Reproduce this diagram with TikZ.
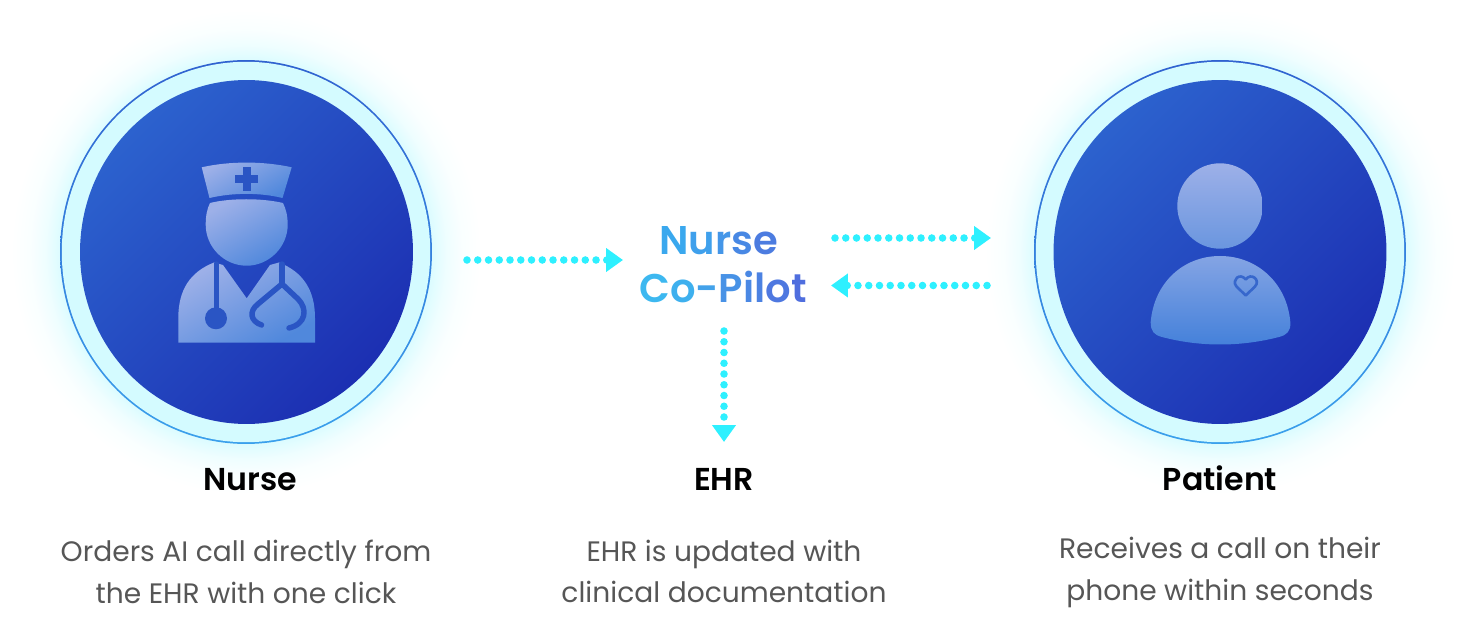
\documentclass[tikz,border=0pt]{standalone}
\usepackage{fontspec}
\setmainfont{Poppins}
\newfontfamily\headfont{Poppins SemiBold}
\usetikzlibrary{arrows.meta, shapes.geometric}

\definecolor{glowin}{HTML}{CFFBFF}
\definecolor{ringup}{HTML}{3062D0}
\definecolor{ringdown}{HTML}{3AA0EC}
\definecolor{discup}{HTML}{2C62CE}
\definecolor{discdown}{HTML}{1C2FB2}
\definecolor{iconup}{HTML}{9DB0E8}
\definecolor{icondown}{HTML}{5088DC}
\definecolor{headdown}{HTML}{6A96DF}
\definecolor{shoulderup}{HTML}{84A4E4}
\definecolor{shoulderdown}{HTML}{4380DA}
\definecolor{tube}{HTML}{2A55C4}
\definecolor{flowcyan}{HTML}{2EF0FF}
\definecolor{bodygray}{HTML}{565656}

\pgfdeclareradialshading{glowball}{\pgfpoint{0bp}{0bp}}{
  color(0bp)=(glowin); color(19.7bp)=(glowin!75!white);
  color(21.3bp)=(glowin!35!white); color(22.9bp)=(glowin!12!white); color(25bp)=(white); color(50bp)=(white)}

\newcommand{\gl}[2]{\textcolor[HTML]{#1}{#2}}

\begin{document}
\begin{tikzpicture}[x=0.02cm, y=-0.02cm,
                    glow/.style = {ellipse, minimum width = 9.4cm, minimum height = 9.7cm, inner sep = 0pt, shading = glowball},
                    ring/.style = {ellipse, minimum width = 7.44cm, minimum height = 7.68cm, inner sep = 0pt,
                                   shading = axial, top color = ringup, bottom color = ringdown},
                    ringgap/.style = {ellipse, minimum width = 7.37cm, minimum height = 7.61cm, inner sep = 0pt, fill = glowin!90!white},
                    disc/.style = {ellipse, minimum width = 6.66cm, minimum height = 6.88cm, inner sep = 0pt, shading = axial,
                                   top color = discup, bottom color = discdown, shading angle = 45},
                    iconfill/.style = {shading = axial, top color = iconup, bottom color = icondown, shading angle = 30},
                    tubeline/.style = {draw = tube, line width = 3.1pt, line cap = round, line join = round},
                    title/.style = {font = \headfont\fontsize{18}{21}\selectfont, text = black, anchor = base},
                    desc/.style = {font = \fontsize{16}{23.8}\selectfont, text = bodygray, align = center},
                    dotflow/.style = {draw = flowcyan, line width = 4.3pt, line cap = round,
                                      dash pattern = on 0pt off 6.12pt,
                                      -{Triangle[length = 9.6pt, width = 13pt, fill = flowcyan]}}]
  \useasboundingbox (0, 0) rectangle (1467, 631);

  % nurse circle
  \node [glow] (nurseglow) at (246, 252){};
  \node [ring] (nursering) at (246, 252){};
  \node [ringgap] (nursegap) at (246, 252){};
  \node [disc] (nurse) at (246.5, 252){};

  % patient circle
  \node [glow] (patientglow) at (1220, 252){};
  \node [ring] (patientring) at (1220, 252){};
  \node [ringgap] (patientgap) at (1220, 252){};
  \node [disc] (patient) at (1220, 252){};

  % nurse icon
  \shade [iconfill] (201.7, 167.3) .. controls (230, 161) and (263, 161) .. (291.7, 167.3)
    -- (282.5, 198) .. controls (260, 192.5) and (233, 192.5) .. (209.5, 198) -- cycle;
  \fill [tube] (242.7, 167.3) rectangle (250.7, 190.7);
  \fill [tube] (235, 175) rectangle (258.3, 182.7);
  \shade [iconfill] (205.7, 224.7) .. controls (205.7, 247) and (224, 265.7) .. (246.7, 265.7)
    .. controls (269, 265.7) and (287.7, 247) .. (287.7, 224.7)
    .. controls (287.7, 216) and (286, 209) .. (283, 203)
    .. controls (262, 198) and (230, 198) .. (210, 203)
    .. controls (207, 209) and (205.7, 216) .. (205.7, 224.7) -- cycle;
  \shade [iconfill] (178.3, 342.7) -- (178.3, 318) .. controls (178.3, 290) and (190, 272) .. (214, 262.5)
    -- (223, 265) -- (246.7, 298.3) -- (270, 265) -- (279, 262.5)
    .. controls (303, 272) and (315, 290) .. (315, 318) -- (315, 342.7) -- cycle;
  \draw [tubeline] (216.3, 264) -- (216.3, 312);
  \fill [tube] (216, 318.3) circle (11);
  \draw [tubeline] (282, 264) -- (282, 284);
  \draw [tubeline] (261.5, 325) .. controls (250, 321) and (249, 311) .. (258, 304) -- (282, 284)
    -- (298, 299) .. controls (308, 309) and (306, 324) .. (289, 328);

  % patient icon
  \shade [iconfill, bottom color = headdown] (1220, 206) circle (42.7);
  \shade [iconfill, top color = shoulderup, bottom color = shoulderdown] (1150.7, 322)
    .. controls (1154, 283) and (1183, 256) .. (1220, 256)
    .. controls (1257, 256) and (1287, 283) .. (1290.3, 322)
    .. controls (1291, 331) and (1287, 335) .. (1279, 337)
    .. controls (1240, 347) and (1200, 347) .. (1162, 337)
    .. controls (1154, 335) and (1150.5, 331) .. (1150.7, 322) -- cycle;
  \draw [draw = tube!65!icondown, line width = 1.5pt, line join = round] (1245.7, 295.5)
    -- (1236.5, 286.5) .. controls (1231, 280) and (1240, 272) .. (1245.7, 279.5)
    .. controls (1251, 272) and (1261, 280) .. (1255, 286.5) -- cycle;

  % center label
  \node [font = \headfont\fontsize{22.8}{27.2}\selectfont, align = center] (pilot) at (723, 265)
    {\gl{3AA8EE}{N}\gl{3FA0EC}{u}\gl{4496E8}{r}\gl{4888E4}{s}\gl{4C7CE0}{e}\hspace*{5pt}\\
     \gl{3DB8F0}{C}\gl{3EB0EE}{o}\gl{43A2EA}{-}\gl{4892E6}{P}\gl{4A88E4}{i}\gl{4C82E2}{l}\gl{4E78E0}{o}\gl{4F6EDE}{t}};

  % titles and text
  \node [title] (nursetitle) at (250, 490) {Nurse};
  \node [title] (ehrtitle) at (724, 490) {EHR};
  \node [title] (patienttitle) at (1220, 490) {Patient};
  \node [desc] (nursetext) at (246, 571.5) {Orders AI call directly from\\the EHR with one click};
  \node [desc] (ehrtext) at (724, 571.5) {EHR is updated with\\clinical documentation};
  \node [desc] (patienttext) at (1220, 572.5) {Receives a call on their\\phone within seconds};

  % connector ends
  \coordinate (nurseout) at (467, 260);
  \coordinate (pilotin) at (623, 260);
  \coordinate (pilotout) at (835, 238);
  \coordinate (patientin) at (991, 238);
  \coordinate (patientout) at (987, 285.5);
  \coordinate (pilotback) at (831, 285.5);
  \coordinate (pilotdown) at (724, 331);
  \coordinate (ehrin) at (724, 442);

  \draw [dotflow] (nurseout) -- (pilotin);
  \draw [dotflow] (pilotout) -- (patientin);
  \draw [dotflow] (patientout) -- (pilotback);
  \draw [dotflow] (pilotdown) -- (ehrin);
\end{tikzpicture}
\end{document}
